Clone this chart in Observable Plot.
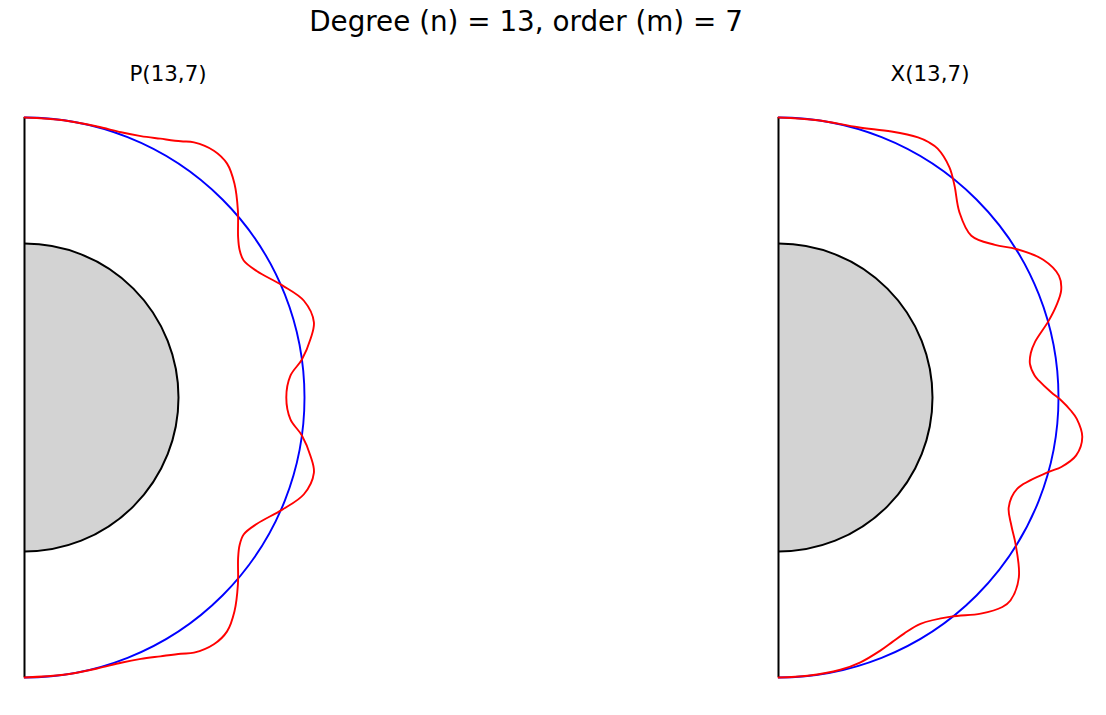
<!DOCTYPE html>
<html><head><meta charset="utf-8">
<script src="https://cdn.jsdelivr.net/npm/d3@7"></script>
<script src="https://cdn.jsdelivr.net/npm/@observablehq/plot@0.6"></script>
<style>
body{margin:0;background:#fff;font-family:"DejaVu Sans",sans-serif;}
#fig{position:relative;width:1106px;height:715px;overflow:hidden;background:#fff;}
.t{position:absolute;white-space:nowrap;transform:translate(-50%,-50%);color:#000;line-height:1;}
.panel{position:absolute;top:0;}
</style></head><body>
<div id="fig">
<div class="t" style="left:526px;top:22px;font-size:27.8px">Degree (n) = 13, order (m) = 7</div>
<div class="t" style="left:168px;top:74px;font-size:21.4px">P(13,7)</div>
<div class="t" style="left:930px;top:74px;font-size:21.4px">X(13,7)</div>
<div class="panel" id="p1" style="left:0px"></div>
<div class="panel" id="p2" style="left:754px"></div>
</div>
<script>
// Angles measured from the top (north) in degrees, radius relative to the reference sphere
const pAngles = [0, 8, 15, 20, 24, 27.7, 31.4, 33.6, 37.5, 40.9, 44.5, 48.8, 53.1, 55.5, 58, 61.5, 66.5, 70.9, 75.4, 78.4, 82.2, 85.3, 90,
  94.7, 97.8, 101.6, 104.6, 109.1, 113.5, 118.5, 122, 124.5, 126.9, 131.2, 135.5, 139.1, 142.5, 146.4, 148.6, 152.3, 156, 160, 165, 172, 180];
const pRadius = [1, 1, 1.002, 1.008, 1.022, 1.044, 1.072, 1.094, 1.111, 1.105, 1.070, 1.013, 0.954, 0.932, 0.923, 0.945, 1.004, 1.056, 1.068, 1.043, 1.000, 0.953, 0.935,
  0.953, 1.000, 1.043, 1.068, 1.056, 1.004, 0.945, 0.923, 0.932, 0.954, 1.013, 1.070, 1.105, 1.111, 1.094, 1.072, 1.044, 1.022, 1.008, 1.002, 1, 1];
const xAngles = [0, 8, 16.4, 23, 28.2, 30.5, 32.6, 36.6, 39.7, 44.3, 50, 54.8, 58, 62.5, 66.5, 69.2, 71.7, 74.2, 77.8, 80, 82.4, 85.1, 86.3, 88.9, 90.6,
  92.5, 94.1, 97.4, 101, 103.8, 105.4, 110.9, 115.5, 118.8, 121.7, 126.8, 131.2, 133.1, 136.9, 141.8, 147.9, 152, 155, 158, 162.8, 167.2, 174, 180];
const xRadius = [1, 1, 1.006, 1.032, 1.054, 1.058, 1.055, 1.024, 0.984, 0.925, 0.899, 0.946, 1.001, 1.066, 1.092, 1.080, 1.045, 1.002, 0.937, 0.915, 0.906, 0.918, 0.932, 0.974, 1.010,
  1.044, 1.068, 1.094, 1.083, 1.040, 1.001, 0.913, 0.911, 0.949, 0.995, 1.072, 1.101, 1.095, 1.057, 0.996, 0.954, 0.955, 0.963, 0.974, 0.990, 0.997, 0.999, 1];
const refRadius = 1;
const coreRadius = 0.55;

function panel(angles, radii) {
  const curve = angles.map((a, i) => ({
    x: radii[i] * Math.sin(a * Math.PI / 180),
    y: radii[i] * Math.cos(a * Math.PI / 180)
  }));
  return Plot.plot({
    width: 346, height: 715,
    marginLeft: 24, marginRight: 0, marginTop: 89, marginBottom: 10,
    x: {domain: [0, 1.15], axis: null},
    y: {domain: [-1.1, 1.1], axis: null},
    r: {type: "linear", domain: [0, 1], range: [0, 280]},
    style: {background: "transparent"},
    marks: [
      Plot.dot([{r: coreRadius}], {x: () => 0, y: () => 0, r: "r", fill: "lightgray", stroke: "black", strokeWidth: 2, clip: true}),
      Plot.dot([{r: refRadius}], {x: () => 0, y: () => 0, r: "r", fill: "none", stroke: "blue", strokeWidth: 1.9, clip: true}),
      Plot.ruleX([0], {y1: -refRadius, y2: refRadius, stroke: "black", strokeWidth: 2}),
      Plot.line(curve, {x: "x", y: "y", stroke: "red", strokeWidth: 1.9, curve: "catmull-rom"})
    ]
  });
}
document.getElementById("p1").appendChild(panel(pAngles, pRadius));
document.getElementById("p2").appendChild(panel(xAngles, xRadius));
</script>
</body></html>
